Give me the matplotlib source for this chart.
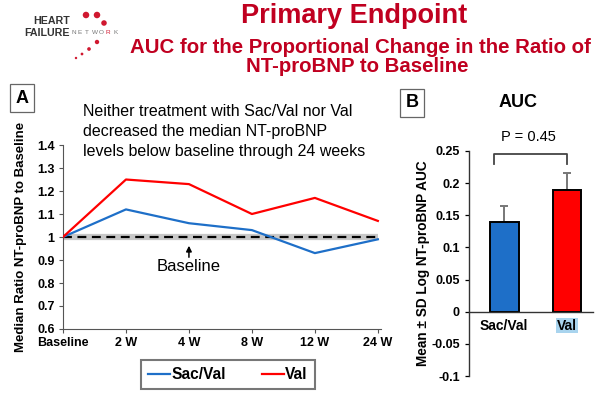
import matplotlib
matplotlib.use("Agg")
import matplotlib.pyplot as plt
import numpy as np

plt.rcParams['font.family'] = ['Liberation Sans', 'DejaVu Sans']

# ---- data ----
timepoints = ["Baseline", "2 W", "4 W", "8 W", "12 W", "24 W"]
sacval_ratio = [1.00, 1.12, 1.06, 1.03, 0.93, 0.99]
val_ratio = [1.00, 1.25, 1.23, 1.10, 1.17, 1.07]
baseline_ref = [1.0, 1.0, 1.0, 1.0, 1.0, 1.0]

groups = ["Sac/Val", "Val"]
auc_mean = [0.14, 0.19]
auc_sd = [0.025, 0.025]
p_text = "P = 0.45"

BLUE = "#1E6FC8"
RED = "#FF0000"
DARKRED = "#C00020"

fig = plt.figure(figsize=(6.0, 3.96), dpi=100)
fig.patch.set_facecolor("white")

# ---- titles ----
fig.text(0.591, 0.943, "Primary Endpoint", ha="center", va="baseline",
         fontsize=19.5, fontweight="bold", color=DARKRED)
fig.text(0.600, 0.866, "AUC for the Proportional Change in the Ratio of",
         ha="center", va="baseline", fontsize=14.7, fontweight="bold", color=DARKRED)
fig.text(0.596, 0.818, "NT-proBNP to Baseline", ha="center", va="baseline",
         fontsize=14.7, fontweight="bold", color=DARKRED)

# ---- logo ----
ax_logo = fig.add_axes([0, 0, 1, 1], facecolor="none")
ax_logo.set_xlim(0, 600); ax_logo.set_ylim(396, 0); ax_logo.axis("off")
ax_logo.text(70, 21, "HEART", ha="right", va="center", fontsize=7.7,
             fontweight="bold", color="#333333")
ax_logo.text(70, 32.5, "FAILURE", ha="right", va="center", fontsize=7.7,
             fontweight="bold", color="#333333")
net_letters = list("NETWORK")
net_colors = ["#777777"] * 5 + ["#D01830", "#777777"]
for i, (ch, c) in enumerate(zip(net_letters, net_colors)):
    ax_logo.text(71 + i * 7.0, 33, ch, ha="left", va="center", fontsize=4.6,
                 color=c)
dots_x = [86, 97, 104, 97, 89, 82, 76]
dots_y = [15, 15, 23, 42, 49, 54, 58]
dots_s = [22, 22, 16, 10, 7, 4, 3]
ax_logo.scatter(dots_x, dots_y, s=dots_s, color="#D01830", linewidths=0)

# ---- panel A ----
axA = fig.add_axes([0.105, 0.1692, 0.530, 0.4646])
x = np.arange(len(timepoints))
axA.plot(x, baseline_ref, color="#C8C8C8", lw=4.5, solid_capstyle="butt", zorder=1)
axA.plot(x, baseline_ref, color="black", lw=1.6, ls=(0, (4, 2.5)), zorder=2)
axA.plot(x, sacval_ratio, color=BLUE, lw=1.6, label="Sac/Val", zorder=3)
axA.plot(x, val_ratio, color=RED, lw=1.6, label="Val", zorder=3)
axA.set_xlim(0, 5.05)
axA.set_ylim(0.6, 1.4)
axA.set_yticks(np.arange(0.6, 1.41, 0.1))
axA.set_yticklabels(["0.6", "0.7", "0.8", "0.9", "1", "1.1", "1.2", "1.3", "1.4"])
axA.set_xticks(x)
axA.set_xticklabels(timepoints)
for lab in axA.get_xticklabels() + axA.get_yticklabels():
    lab.set_fontweight("bold")
    lab.set_fontsize(9)
axA.tick_params(axis="both", length=3, width=0.8, color="#555555", pad=3)
axA.spines["top"].set_visible(False)
axA.spines["right"].set_visible(False)
for s in ["left", "bottom"]:
    axA.spines[s].set_color("#555555")
    axA.spines[s].set_linewidth(0.8)
axA.set_ylabel("Median Ratio NT-proBNP to Baseline", fontsize=9.5,
               fontweight="bold", labelpad=7)
axA.annotate("", xy=(2, 0.962), xytext=(2, 0.912),
             arrowprops=dict(arrowstyle="-|>", color="black", lw=1.1,
                             mutation_scale=8, shrinkA=0, shrinkB=0))
axA.text(2, 0.87, "Baseline", ha="center", va="center", fontsize=12)

fig.text(0.138, 0.668, "Neither treatment with Sac/Val nor Val\n"
         "decreased the median NT-proBNP\n"
         "levels below baseline through 24 weeks",
         ha="left", va="center", fontsize=11.5, linespacing=1.45)

leg = fig.legend(handles=axA.get_lines()[2:], labels=["Sac/Val", "Val"],
                 loc="center", bbox_to_anchor=(0.38, 0.054), ncol=2,
                 frameon=True, fancybox=False, handlelength=1.4,
                 handletextpad=0.1, columnspacing=2.3, borderpad=0.45,
                 borderaxespad=0, prop={"weight": "bold", "size": 11.2})
leg.get_frame().set_edgecolor("#555555")
leg.get_frame().set_linewidth(1.5)

# panel label A
fig.text(0.037, 0.752, "A", ha="center", va="center", fontsize=13,
         fontweight="bold",
         bbox=dict(boxstyle="square,pad=0.32", fc="white", ec="#666666", lw=0.9))

# ---- panel B ----
axB = fig.add_axes([0.7817, 0.0505, 0.2063, 0.5682])
xb = np.arange(len(groups))
axB.bar(xb, auc_mean, width=0.46, color=[BLUE, RED], edgecolor="black",
        linewidth=1.4, zorder=2)
axB.errorbar(xb, auc_mean, yerr=[[0, 0], auc_sd], fmt="none",
             ecolor="#777777", elinewidth=1.4, capsize=3, capthick=1.4, zorder=1)
axB.set_xlim(-0.56, 1.41)
axB.set_ylim(-0.1, 0.25)
axB.set_yticks([-0.1, -0.05, 0, 0.05, 0.1, 0.15, 0.2, 0.25])
axB.set_yticklabels(["-0.1", "-0.05", "0", "0.05", "0.1", "0.15", "0.2", "0.25"])
axB.spines["top"].set_visible(False)
axB.spines["right"].set_visible(False)
axB.spines["bottom"].set_position(("data", 0))
for s in ["left", "bottom"]:
    axB.spines[s].set_color("#333333")
    axB.spines[s].set_linewidth(1.0)
axB.set_xticks(xb)
axB.set_xticklabels(groups)
axB.tick_params(axis="x", length=0, pad=5)
axB.tick_params(axis="y", length=3, width=0.9)
for lab in axB.get_xticklabels():
    lab.set_fontweight("bold"); lab.set_fontsize(10)
for lab in axB.get_yticklabels():
    lab.set_fontweight("bold"); lab.set_fontsize(9)
axB.get_xticklabels()[1].set_bbox(dict(boxstyle="square,pad=0.05",
                                        fc="#A9D4EE", ec="none"))
axB.set_ylabel("Mean ± SD Log NT-proBNP AUC", fontsize=9.8,
               fontweight="bold", labelpad=1)
axB.plot([-0.16, -0.16, 1, 1], [0.229, 0.246, 0.246, 0.229], color="#444444",
         lw=1.3, clip_on=False)
axB.text(0.38, 0.272, p_text, ha="center", va="center", fontsize=10.5,
         clip_on=False)
fig.text(0.863, 0.74, "AUC", ha="center", va="center", fontsize=13,
         fontweight="bold")
fig.text(0.687, 0.74, "B", ha="center", va="center", fontsize=13,
         fontweight="bold",
         bbox=dict(boxstyle="square,pad=0.32", fc="white", ec="#666666", lw=0.9))

fig.savefig("out.png", dpi=100, facecolor="white")
